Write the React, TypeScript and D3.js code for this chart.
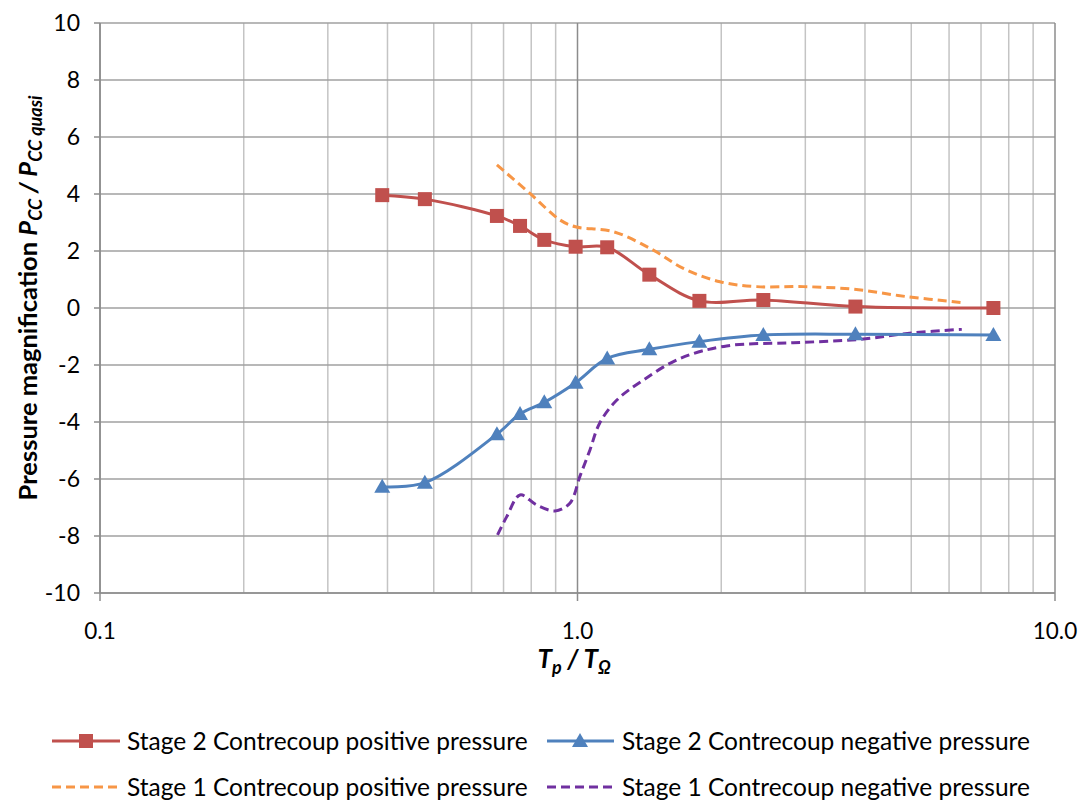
import React from "react";
import * as d3 from "d3";

const stage2X = [0.39, 0.479, 0.678, 0.758, 0.852, 0.991, 1.154, 1.414, 1.8, 2.45, 3.82, 7.43];
const stage2Pos = [3.96, 3.82, 3.23, 2.88, 2.39, 2.15, 2.13, 1.17, 0.25, 0.28, 0.05, 0.0];
const stage2Neg = [-6.27, -6.13, -4.43, -3.72, -3.31, -2.62, -1.77, -1.45, -1.18, -0.95, -0.92, -0.95];

const stage1PosX = [0.678, 0.795, 0.919, 0.99, 1.188, 1.441, 1.666, 1.988, 2.373, 2.97, 3.78, 4.89, 6.38];
const stage1PosY = [5.02, 4.02, 3.09, 2.85, 2.68, 2.03, 1.39, 0.92, 0.75, 0.75, 0.66, 0.4, 0.19];

const stage1NegX = [0.68, 0.711, 0.758, 0.821, 0.897, 0.964, 1.012, 1.062, 1.112, 1.209, 1.373, 1.64, 2.053, 2.83, 3.91, 5.05, 6.38];
const stage1NegY = [-7.96, -7.32, -6.56, -6.91, -7.12, -6.85, -5.9, -4.98, -4.05, -3.23, -2.53, -1.77, -1.33, -1.22, -1.1, -0.87, -0.75];

const yTicks = [10, 8, 6, 4, 2, 0, -2, -4, -6, -8, -10];
const xMajor = [0.1, 1, 10];
const xMajorLabels = ["0.1", "1.0", "10.0"];

const RED = "#C0504D";
const BLUE = "#4F81BD";
const ORANGE = "#F79646";
const PURPLE = "#7030A0";
const FONT = "Lato, 'Open Sans', sans-serif";

export default function App() {
  const W = 1078, H = 803;
  const left = 100, right = 1055, top = 23, bottom = 593;
  const x = d3.scaleLog().domain([0.1, 10]).range([left, right]);
  const y = d3.scaleLinear().domain([-10, 10]).range([bottom, top]);

  const minors: number[] = [];
  [0.1, 1].forEach((d) => {
    for (let k = 2; k <= 9; k++) minors.push(d * k);
  });

  const line = d3
    .line<[number, number]>()
    .x((d) => x(d[0]))
    .y((d) => y(d[1]))
    .curve(d3.curveCatmullRom.alpha(0.5));

  const zip = (a: number[], b: number[]) => a.map((v, i) => [v, b[i]] as [number, number]);

  const tri = (cx: number, cy: number, s = 8) =>
    `M${cx},${cy - s} L${cx + s},${cy + s * 0.75} L${cx - s},${cy + s * 0.75} Z`;

  return (
    <svg width={W} height={H} style={{ position: "absolute", left: 0, top: 0 }} fontFamily={FONT}>
      <rect width={W} height={H} fill="#fff" />
      {minors.map((m) => (
        <line key={"mv" + m} x1={x(m)} x2={x(m)} y1={top} y2={bottom} stroke="#c4c4c4" strokeWidth={1.5} />
      ))}
      {yTicks.map((t) => (
        <line key={"h" + t} x1={left} x2={right} y1={y(t)} y2={y(t)} stroke="#a0a0a0" strokeWidth={1.5} />
      ))}
      {xMajor.map((m) => (
        <line key={"Mv" + m} x1={x(m)} x2={x(m)} y1={top} y2={bottom + 8} stroke="#8c8c8c" strokeWidth={1.5} />
      ))}
      <line x1={left} x2={left} y1={top} y2={bottom} stroke="#8c8c8c" strokeWidth={1.5} />
      <line x1={left} x2={right} y1={bottom} y2={bottom} stroke="#8c8c8c" strokeWidth={1.5} />
      {yTicks.map((t) => (
        <line key={"yt" + t} x1={left - 6} x2={left} y1={y(t)} y2={y(t)} stroke="#8c8c8c" strokeWidth={1.5} />
      ))}
      {yTicks.map((t) => (
        <text key={"yl" + t} x={80} y={y(t)} dy="0.36em" textAnchor="end" fontSize={23} fill="#000">
          {t}
        </text>
      ))}
      {xMajor.map((m, i) => (
        <text key={"xl" + m} x={x(m)} y={639} textAnchor="middle" fontSize={22.5} fill="#000">
          {xMajorLabels[i]}
        </text>
      ))}
      <text x={574} y={668} textAnchor="middle" fontSize={26} fontWeight="bold" fontStyle="italic" fill="#000">
        T<tspan fontSize={18} dy={6}>p</tspan>
        <tspan dy={-6}> / T</tspan>
        <tspan fontSize={18} dy={6}>Ω</tspan>
      </text>
      <text
        transform={`translate(37, 298) rotate(-90)`}
        textAnchor="middle"
        fontSize={25.5}
        fontWeight="bold"
        fill="#000"
      >
        Pressure magnification <tspan fontStyle="italic">P</tspan>
        <tspan fontStyle="italic" fontSize={18} dy={5}>CC</tspan>
        <tspan fontStyle="italic" dy={-5}> / P</tspan>
        <tspan fontStyle="italic" fontSize={18} dy={5}>CC quasi</tspan>
      </text>

      <path d={line(zip(stage1PosX, stage1PosY)) || ""} fill="none" stroke={ORANGE} strokeWidth={3} strokeDasharray="9,5" />
      <path d={line(zip(stage1NegX, stage1NegY)) || ""} fill="none" stroke={PURPLE} strokeWidth={3} strokeDasharray="9,5" />
      <path d={line(zip(stage2X, stage2Pos)) || ""} fill="none" stroke={RED} strokeWidth={3} />
      <path d={line(zip(stage2X, stage2Neg)) || ""} fill="none" stroke={BLUE} strokeWidth={3} />
      {stage2X.map((v, i) => (
        <rect key={"sq" + i} x={x(v) - 7} y={y(stage2Pos[i]) - 7} width={14} height={14} fill={RED} />
      ))}
      {stage2X.map((v, i) => (
        <path key={"tr" + i} d={tri(x(v), y(stage2Neg[i]))} fill={BLUE} />
      ))}

      <g fontSize={24.5} fill="#000">
        <line x1={52} x2={120} y1={741} y2={741} stroke={RED} strokeWidth={3} />
        <rect x={79} y={734} width={14} height={14} fill={RED} />
        <text x={127} y={741} dy="0.35em">Stage 2 Contrecoup positive pressure</text>

        <line x1={547} x2={614} y1={741} y2={741} stroke={BLUE} strokeWidth={3} />
        <path d={tri(580, 741)} fill={BLUE} />
        <text x={622} y={741} dy="0.35em">Stage 2 Contrecoup negative pressure</text>

        <line x1={52} x2={120} y1={787} y2={787} stroke={ORANGE} strokeWidth={3} strokeDasharray="9,5" />
        <text x={127} y={787} dy="0.35em">Stage 1 Contrecoup positive pressure</text>

        <line x1={547} x2={614} y1={787} y2={787} stroke={PURPLE} strokeWidth={3} strokeDasharray="9,5" />
        <text x={622} y={787} dy="0.35em">Stage 1 Contrecoup negative pressure</text>
      </g>
    </svg>
  );
}
